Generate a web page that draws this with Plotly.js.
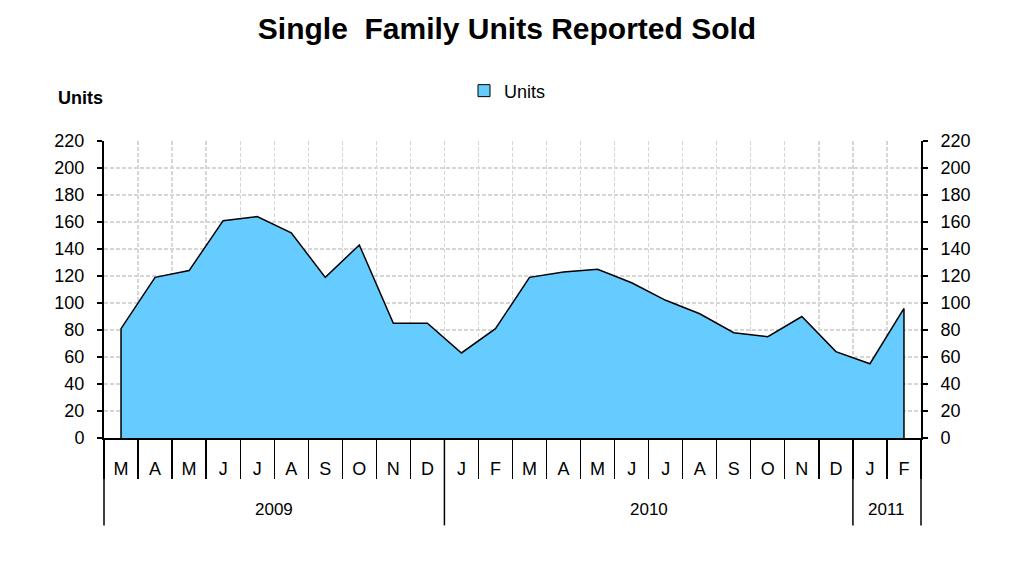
<!DOCTYPE html>
<html>
<head>
<meta charset="utf-8">
<script src="https://cdn.plot.ly/plotly-3.0.1.min.js"></script>
<style>html,body{margin:0;padding:0;background:#fff;}#chart{width:1014px;height:562px;}</style>
</head>
<body>
<div id="chart"></div>
<script>
const years  = ["2009","2009","2009","2009","2009","2009","2009","2009","2009","2009",
                "2010","2010","2010","2010","2010","2010","2010","2010","2010","2010","2010","2010",
                "2011","2011"];
const months = ["M","A","M","J","J","A","S","O","N","D",
                "J","F","M","A","M","J","J","A","S","O","N","D",
                "J","F"];
const units  = [81,119,124,161,164,152,119,143,85,85,
                63,81,119,123,125,115,102,92,78,75,90,64,
                55,96];

const n = units.length;
// unique category keys (months repeat)
const cats = months.map((m, i) => m + " " + years[i] + " #" + i);
const idx = units.map((_, i) => i);
const boundaries = [-0.5].concat(idx.map(i => i + 0.5));

// closed outline: drop to zero at first and last category
const xs = [cats[0]].concat(cats, [cats[n-1]]);
const ys = [0].concat(units, [0]);

// year groups -> label centres and divider boundaries (category index units)
const groups = [];
years.forEach((y, i) => {
  if (!groups.length || groups[groups.length-1].year !== y) groups.push({year: y, start: i, end: i});
  else groups[groups.length-1].end = i;
});

const font = "Liberation Sans, Arial, sans-serif";
const plotTop = 141, plotBot = 437.7, plotH = plotBot - plotTop;
const py = px => (plotBot - px) / plotH;   // pixel row -> paper y

const gridStyle = {showgrid: true, gridcolor: "#D6D6D6", griddash: "4px,2px", gridwidth: 1.3};

const traces = [
  {
    type: "scatter", mode: "lines", name: "Units",
    x: xs, y: ys,
    fill: "toself", fillcolor: "#66CCFF",
    line: {color: "#000000", width: 1.5},
    hoverinfo: "skip", showlegend: false
  },
  {
    // legend-only swatch (drawn outside the visible range)
    type: "bar", name: "Units", x: [cats[0]], y: [-10], base: [-100],
    marker: {color: "#66CCFF", line: {color: "#000", width: 1}},
    hoverinfo: "skip", showlegend: true
  },
  {
    type: "scatter", mode: "lines", name: "right",
    x: idx, y: units, xaxis: "x2", yaxis: "y2",
    line: {color: "rgba(0,0,0,0)", width: 0},
    showlegend: false, hoverinfo: "skip"
  }
];

const yax = Object.assign({
  range: [0, 220], dtick: 20, tick0: 0,
  showline: true, linecolor: "#000", linewidth: 2,
  ticks: "outside", ticklen: 5, tickcolor: "#000", tickwidth: 1.3,
  zeroline: false,
  tickfont: {family: font, size: 18, color: "#000"},
  ticklabelstandoff: 9,
  fixedrange: true
}, gridStyle);

const shapes = [];
const annotations = [
  {text: "<b>Units</b>", xref: "paper", yref: "paper", x: -0.0587, y: py(98),
   xanchor: "left", yanchor: "middle", showarrow: false,
   font: {family: font, size: 18, color: "#000"}}
];
groups.forEach((g, k) => {
  annotations.push({
    text: g.year, xref: "x", yref: "paper",
    x: (g.start + g.end) / 2, y: py(509), xanchor: "center", yanchor: "middle",
    showarrow: false, font: {family: font, size: 17, color: "#000"}
  });
  const bounds = [g.start - 0.5];
  if (k === groups.length - 1) bounds.push(g.end + 0.5);
  bounds.forEach(b => shapes.push({
    type: "line", xref: "paper", yref: "paper",
    x0: (b + 0.5) / n, x1: (b + 0.5) / n, y0: 0, y1: py(525),
    line: {color: "#000", width: 1.5}
  }));
});

const layout = {
  width: 1014, height: 562,
  margin: {l: 104, r: 93, t: 141, b: 124},
  paper_bgcolor: "#ffffff", plot_bgcolor: "#ffffff",
  title: {text: "<b>Single  Family Units Reported Sold</b>", x: 0.5, xanchor: "center",
          y: 1 - 28/562, yanchor: "middle",
          font: {family: font, size: 30, color: "#000"}},
  showlegend: true,
  legend: {x: 0.5 - 5/817, xanchor: "center", y: py(91), yanchor: "middle", orientation: "h",
           font: {family: font, size: 18, color: "#000"}, bgcolor: "rgba(0,0,0,0)",
           itemwidth: 30},
  xaxis: {
    type: "category", categoryorder: "array", categoryarray: cats,
    range: [-0.5, n - 0.5],
    tickmode: "array", tickvals: cats, ticktext: months,
    showline: true, linecolor: "#000", linewidth: 2,
    ticks: "", ticklabelstandoff: 13,
    showgrid: false, zeroline: false,
    tickfont: {family: font, size: 18, color: "#000"},
    fixedrange: true
  },
  xaxis2: Object.assign({
    type: "linear", overlaying: "x", side: "bottom", anchor: "y",
    range: [-0.5, n - 0.5],
    tickmode: "array", tickvals: boundaries,
    ticks: "outside", ticklen: 40, tickcolor: "#000", tickwidth: 1.3,
    showticklabels: false, showline: false, zeroline: false,
    fixedrange: true
  }, gridStyle),
  yaxis: yax,
  yaxis2: Object.assign({}, yax, {overlaying: "y", side: "right", showgrid: false, anchor: "x"}),
  shapes: shapes,
  annotations: annotations
};

Plotly.newPlot("chart", traces, layout, {displayModeBar: false, staticPlot: true});
</script>
</body>
</html>
